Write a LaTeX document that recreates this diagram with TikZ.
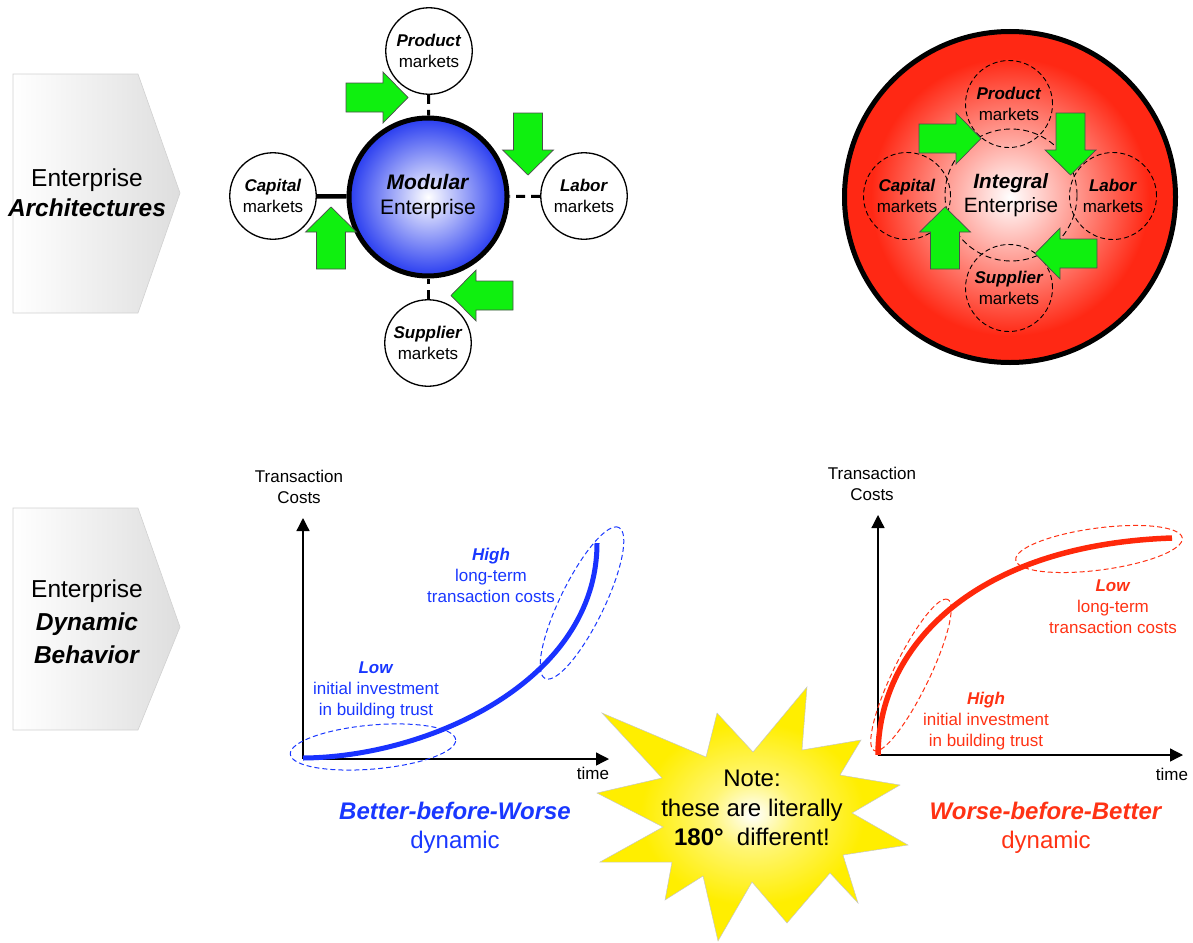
\documentclass[tikz,border=0pt]{standalone}
\usepackage{fontspec}
\setmainfont{Liberation Sans}
\usetikzlibrary{arrows.meta}

\definecolor{modblue}{RGB}{40,60,240}
\definecolor{intred}{RGB}{255,40,20}
\definecolor{arrowgreen}{RGB}{15,240,15}
\definecolor{txtblue}{RGB}{25,55,255}
\definecolor{curveblue}{RGB}{25,50,255}
\definecolor{txtred}{RGB}{255,50,20}
\definecolor{curvered}{RGB}{255,40,10}
\definecolor{starY}{RGB}{255,238,0}

\pgfdeclareradialshading{starglow}{\pgfpoint{0bp}{0bp}}{color(0bp)=(white); color(7bp)=(white!45!starY); color(18bp)=(starY); color(50bp)=(starY)}
\pgfdeclareradialshading{redglow}{\pgfpoint{0bp}{0bp}}{color(0bp)=(white); color(21bp)=(intred); color(25bp)=(intred); color(50bp)=(intred)}

\tikzset{
  chevron/.style={left color=white, right color=black!13, draw=black!18, line width=0.6pt},
  chevtext/.style={align=center, font=\fontsize{24.5}{30}\selectfont},
  mktcircle/.style={circle, draw, line width=1.3pt, fill=white, minimum size=86.5pt, inner sep=0pt, align=center, font=\fontsize{17}{21}\selectfont},
  modcircle/.style={circle, draw, line width=5pt, inner color=white, outer color=modblue, minimum size=158pt, inner sep=0pt, align=center, font=\fontsize{21}{25}\selectfont},
  bigred/.style={circle, draw, line width=5pt, shading=redglow, minimum size=331pt, inner sep=0pt},
  dashmkt/.style={circle, draw, dash pattern=on 5pt off 3pt, line width=0.9pt, minimum size=87pt, inner sep=0pt, align=center, font=\fontsize{17}{21}\selectfont},
  corecircle/.style={circle, draw, dash pattern=on 6pt off 3.5pt, line width=0.9pt, minimum size=132pt, inner sep=0pt, align=center, font=\fontsize{20.7}{24}\selectfont},
  dashlink/.style={line width=3pt, dash pattern=on 9pt off 6pt},
  solidlink/.style={line width=4.5pt},
  axis/.style={line width=1.3pt, -{Triangle[length=13pt,width=13pt]}},
  glabel/.style={align=center, font=\fontsize{17}{21}\selectfont},
  bluecurve/.style={curveblue, line width=5pt},
  redcurve/.style={curvered, line width=5.5pt},
  bluering/.style={txtblue, line width=1pt, dash pattern=on 5pt off 3pt},
  redring/.style={txtred, line width=1pt, dash pattern=on 5pt off 3pt},
  bottomtext/.style={align=center, font=\fontsize{24}{29}\selectfont},
  notetext/.style={align=center, font=\fontsize{24}{29.5}\selectfont},
  garrow/.pic={\draw[fill=arrowgreen, draw=black!70, line width=0.7pt, line join=miter]
      (0,-14.5) -- (37,-14.5) -- (37,-25.5) -- (62,0) -- (37,25.5) -- (37,14.5) -- (0,14.5) -- cycle;}
}

\begin{document}
\begin{tikzpicture}[x=1pt, y=-1pt]
\useasboundingbox (0,0) rectangle (1193,942);

% ---- row headers ----
\shade[chevron] (13,74) -- (138,74) -- (180,193) -- (138,313) -- (13,313) -- cycle;
\node[chevtext] (archlabel) at (87,193) {Enterprise\\\textbf{\textit{Architectures}}};

\shade[chevron] (13,508) -- (138,508) -- (180,627) -- (138,730) -- (13,730) -- cycle;
\node[chevtext, font=\fontsize{24.5}{33}\selectfont] (dynlabel) at (87,622) {Enterprise\\\textbf{\textit{Dynamic}}\\\textbf{\textit{Behavior}}};

% ---- modular enterprise ----
\node[modcircle] (mod) at (428,197) {\textbf{\textit{Modular}}\\Enterprise};
\node[mktcircle] (mprod) at (429,51) {\textbf{\textit{Product}}\\markets};
\node[mktcircle] (mcap) at (273,196) {\textbf{\textit{Capital}}\\markets};
\node[mktcircle] (mlab) at (584,196) {\textbf{\textit{Labor}}\\markets};
\node[mktcircle] (msup) at (428,343) {\textbf{\textit{Supplier}}\\markets};

\draw[dashlink] (mprod) -- (mod);
\draw[solidlink] (mcap) -- (mod);
\draw[dashlink] (mlab) -- (mod);
\draw[dashlink] (msup) -- (mod);

\pic at (346,97.5) {garrow};
\pic[rotate=-90] at (528,113) {garrow};
\pic[rotate=90] at (331,269) {garrow};
\pic[rotate=180] at (513,295.5) {garrow};

% ---- integral enterprise ----
\node[bigred] (integral) at (1010,197) {};
\node[corecircle] (icore) at (1011,195) {\textbf{\textit{Integral}}\\Enterprise};
\node[dashmkt] (iprod) at (1009,104) {\textbf{\textit{Product}}\\markets};
\node[dashmkt] (icap) at (907,196) {\textbf{\textit{Capital}}\\markets};
\node[dashmkt] (ilab) at (1113,196) {\textbf{\textit{Labor}}\\markets};
\node[dashmkt] (isup) at (1009,288) {\textbf{\textit{Supplier}}\\markets};

\pic at (919,138.5) {garrow};
\pic[rotate=-90] at (1070.5,113) {garrow};
\pic[rotate=90] at (945,269) {garrow};
\pic[rotate=180] at (1097,253.5) {garrow};

% ---- better-before-worse graph ----
\coordinate (o1) at (303,759);
\coordinate (ytip1) at (303,518);
\coordinate (xtip1) at (609,759);
\draw[axis] (o1) -- (ytip1);
\draw[axis] (o1) -- (xtip1);
\node[glabel] (ylab1) at (299,487) {Transaction\\Costs};
\node[glabel] (xlab1) at (593,773) {time};

\draw[bluering, rotate around={5:(373,747)}] (373,747) ellipse [x radius=83pt, y radius=22pt];
\draw[bluering, rotate around={64:(582,603)}] (582,603) ellipse [x radius=84pt, y radius=22pt];
\draw[bluecurve] (303,758) .. controls (430,757) and (597,680) .. (597,543);

\node[glabel, txtblue] (hi1) at (491,575) {\textbf{\textit{High}}\\long-term\\transaction costs};
\node[glabel, txtblue] (lo1) at (376,690) {\textbf{\textit{Low}}\\initial investment\\in building trust};
\node[bottomtext, txtblue] (bbw) at (455,827.5) {\textbf{\textit{Better-before-Worse}}\\dynamic};

% ---- worse-before-better graph ----
\coordinate (o2) at (878,755);
\coordinate (ytip2) at (878,515);
\coordinate (xtip2) at (1183,755);
\draw[axis] (o2) -- (ytip2);
\draw[axis] (o2) -- (xtip2);
\node[glabel] (ylab2) at (872,484) {Transaction\\Costs};
\node[glabel] (xlab2) at (1172,774) {time};

\draw[redring, rotate around={64:(911,675)}] (911,675) ellipse [x radius=84pt, y radius=18pt];
\draw[redring, rotate around={7.5:(1099,549)}] (1099,549) ellipse [x radius=84pt, y radius=21pt];
\draw[redcurve] (878,755) .. controls (878,650) and (970,545) .. (1172,538);

\node[glabel, txtred] (lo2) at (1113,607) {\textbf{\textit{Low}}\\long-term\\transaction costs};
\node[glabel, txtred] (hi2) at (986,721) {\textbf{\textit{High}}\\initial investment\\in building trust};
\node[bottomtext, txtred] (wbb) at (1046,827.5) {\textbf{\textit{Worse-before-Better}}\\dynamic};

% ---- note burst ----
\shade[shading=starglow, draw=black!22, line width=0.5pt, line join=miter]
  (602,713) -- (706,757) -- (717,713) -- (753,752) -- (807,687) -- (802,750)
  -- (861,740) -- (840,775) -- (900,785) -- (852,813) -- (908,845) -- (843,855)
  -- (858,903) -- (830,873) -- (787,923) -- (752,882) -- (718,941) -- (703,876)
  -- (665,900) -- (672,862) -- (600,862) -- (663,827) -- (597,793) -- (662,778) -- cycle;
\node[notetext] (note) at (752,808) {Note:\\these are literally\\\textbf{180°}\hspace{0.55em}different!};

\end{tikzpicture}
\end{document}
